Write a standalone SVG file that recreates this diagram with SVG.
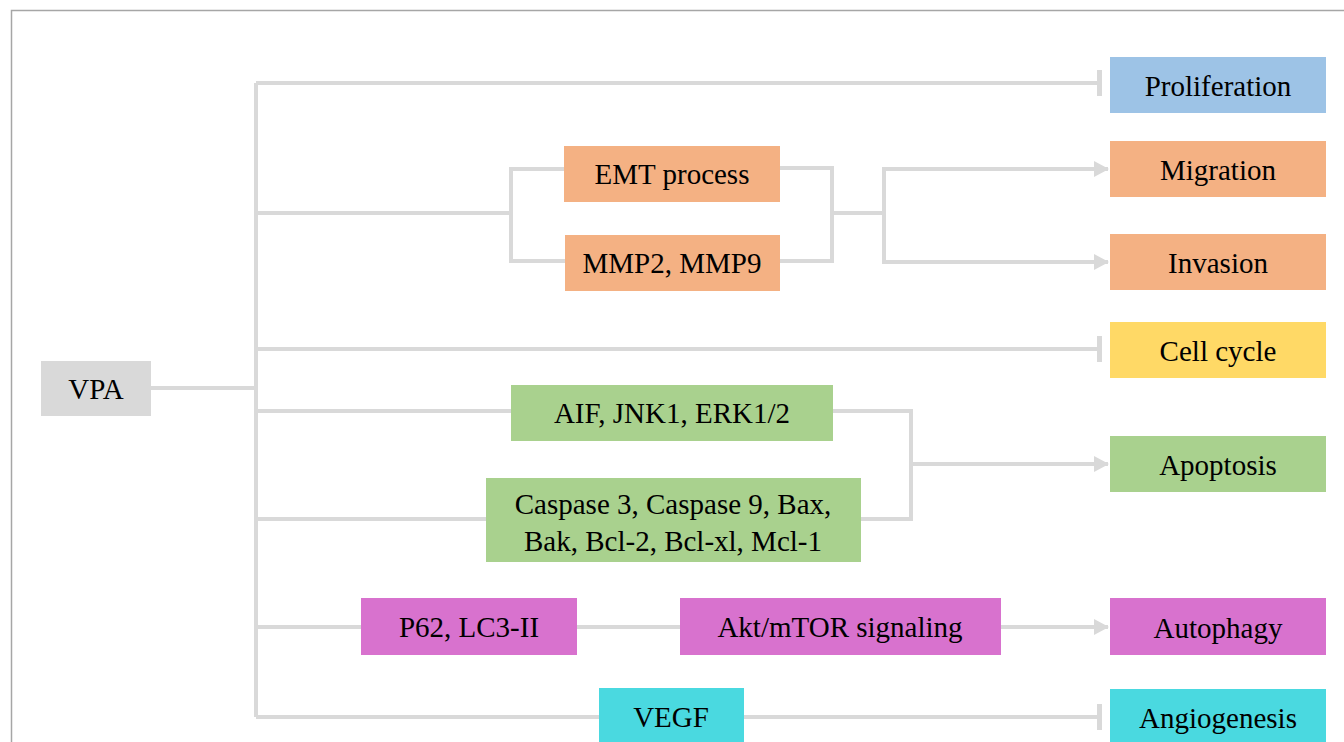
<svg xmlns="http://www.w3.org/2000/svg" width="1344" height="742" viewBox="0 0 1344 742">
<defs>
<style>
.c{fill:none;stroke:#d9d9d9;stroke-width:4}
</style>
<marker id="arr" markerWidth="16" markerHeight="18" refX="14" refY="9" orient="auto" markerUnits="userSpaceOnUse">
<path d="M0,1 L15,9 L0,17 Z" fill="#d9d9d9"/>
</marker>
<marker id="bar" markerWidth="6" markerHeight="26" refX="3" refY="13" orient="auto" markerUnits="userSpaceOnUse">
<rect x="0" y="0" width="5" height="26" fill="#d9d9d9"/>
</marker>
</defs>
<rect width="1344" height="742" fill="#fff"/>
<path d="M11.5,742 V10.5 H1344" fill="none" stroke="#a6a6a6" stroke-width="1.5"/>
<g id="connectors">
<path class="c" d="M151,388 H256"/>
<path class="c" d="M256,83 V717"/>
<path class="c" d="M256,83 H1100" marker-end="url(#bar)"/>
<path class="c" d="M256,213 H511"/>
<path class="c" d="M564,169 H511 V261 H565"/>
<path class="c" d="M780,168 H832 V261 H780"/>
<path class="c" d="M832,213 H884"/>
<path class="c" d="M884,262 V169 H1108" marker-end="url(#arr)"/>
<path class="c" d="M884,169 V262 H1108" marker-end="url(#arr)"/>
<path class="c" d="M256,349 H1100" marker-end="url(#bar)"/>
<path class="c" d="M256,411 H511"/>
<path class="c" d="M256,519 H486"/>
<path class="c" d="M833,411 H911 V519 H861"/>
<path class="c" d="M911,464 H1108" marker-end="url(#arr)"/>
<path class="c" d="M256,627 H361"/>
<path class="c" d="M577,627 H680"/>
<path class="c" d="M1001,627 H1108" marker-end="url(#arr)"/>
<path class="c" d="M256,717 H599"/>
<path class="c" d="M744,717 H1100" marker-end="url(#bar)"/>
</g>
<g font-family="Liberation Serif, Times New Roman, Tinos, DejaVu Serif, serif" font-size="29" fill="#000" text-anchor="middle" dominant-baseline="central">
<g id="vpa"><rect x="41" y="361" width="110" height="55" fill="#d9d9d9"/><text x="96" y="389">VPA</text></g>
<g id="proliferation"><rect x="1110" y="57" width="216" height="56" fill="#9dc3e6"/><text x="1218" y="86">Proliferation</text></g>
<g id="migration"><rect x="1110" y="141" width="216" height="56" fill="#f4b183"/><text x="1218" y="170">Migration</text></g>
<g id="invasion"><rect x="1110" y="234" width="216" height="56" fill="#f4b183"/><text x="1218" y="263">Invasion</text></g>
<g id="cellcycle"><rect x="1110" y="322" width="216" height="56" fill="#ffd966"/><text x="1218" y="351">Cell cycle</text></g>
<g id="apoptosis"><rect x="1110" y="436" width="216" height="56" fill="#a9d18e"/><text x="1218" y="465">Apoptosis</text></g>
<g id="autophagy"><rect x="1110" y="598" width="216" height="57" fill="#d872ce"/><text x="1218" y="628">Autophagy</text></g>
<g id="angiogenesis"><rect x="1110" y="689" width="216" height="56" fill="#4ad9e0"/><text x="1218" y="718">Angiogenesis</text></g>
<g id="emt"><rect x="564" y="146" width="216" height="56" fill="#f4b183"/><text x="672" y="174">EMT process</text></g>
<g id="mmp"><rect x="565" y="235" width="215" height="56" fill="#f4b183"/><text x="672" y="263">MMP2, MMP9</text></g>
<g id="aif"><rect x="511" y="385" width="322" height="56" fill="#a9d18e"/><text x="672" y="413">AIF, JNK1, ERK1/2</text></g>
<g id="caspase"><rect x="486" y="478" width="375" height="84" fill="#a9d18e"/><text x="673" y="504">Caspase 3, Caspase 9, Bax,</text><text x="673" y="541">Bak, Bcl-2, Bcl-xl, Mcl-1</text></g>
<g id="p62"><rect x="361" y="598" width="216" height="57" fill="#d872ce"/><text x="469" y="627">P62, LC3-II</text></g>
<g id="akt"><rect x="680" y="598" width="321" height="57" fill="#d872ce"/><text x="840" y="627">Akt/mTOR signaling</text></g>
<g id="vegf"><rect x="599" y="688" width="145" height="57" fill="#4ad9e0"/><text x="671" y="717">VEGF</text></g>
</g>
</svg>
